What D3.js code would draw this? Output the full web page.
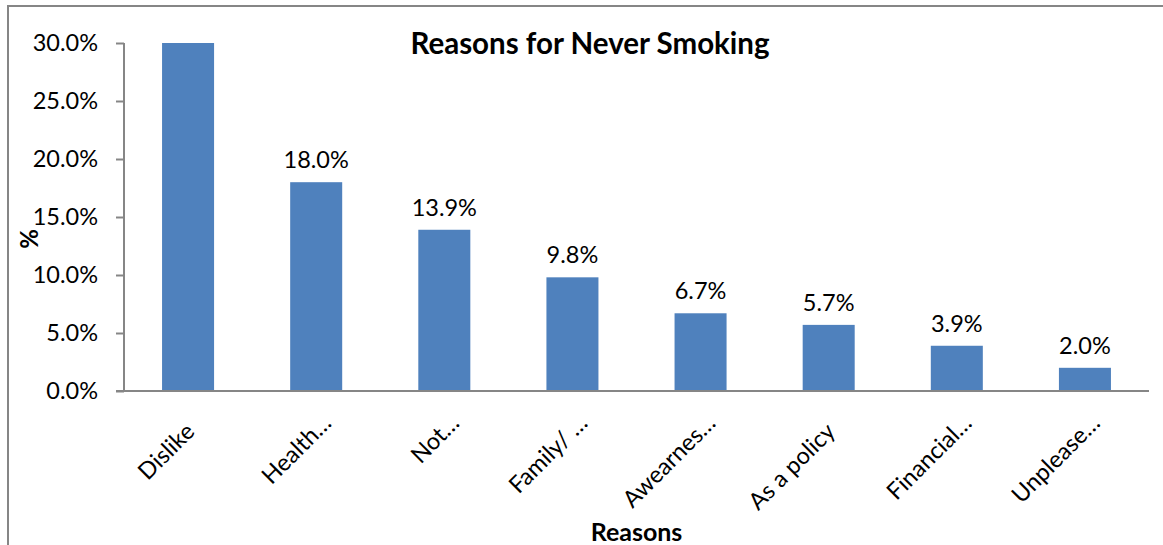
<!DOCTYPE html>
<html>
<head>
<meta charset="utf-8">
<script src="https://cdn.jsdelivr.net/npm/d3@7"></script>
<style>
  html, body { margin: 0; padding: 0; background: #fff; }
  svg { display: block; font-family: Lato, "Open Sans", sans-serif; }
</style>
</head>
<body>
<svg id="chart" width="1163" height="545"></svg>
<script>
// Reasons given for never having smoked (share of respondents, %)
const categories = ["Dislike", "Health…", "Not…", "Family/ …", "Awearnes…", "As a policy", "Financial…", "Unplease…"];
const values = [30.0, 18.0, 13.9, 9.8, 6.7, 5.7, 3.9, 2.0];
const yTicks = [0, 5, 10, 15, 20, 25, 30];

const title = "Reasons for Never Smoking";
const xTitle = "Reasons";
const yTitle = "%";

const svg = d3.select("#chart");
const plot = { left: 124, right: 1149, top: 43, bottom: 391 };

// outer chart frame (extends past the visible area on the right and bottom)
svg.append("rect")
  .attr("x", 8).attr("y", 6)
  .attr("width", 1200).attr("height", 600)
  .attr("fill", "none")
  .attr("stroke", "#868686")
  .attr("stroke-width", 2);

const x = d3.scaleBand()
  .domain(categories)
  .range([plot.left, plot.right])
  .paddingInner(0.594)
  .paddingOuter(0.297);

const y = d3.scaleLinear()
  .domain([0, 30])
  .range([plot.bottom, plot.top]);

const data = categories.map((c, i) => ({ c, v: values[i] }));

// clip bars to the plotting area
svg.append("clipPath").attr("id", "plotClip")
  .append("rect")
  .attr("x", plot.left).attr("y", plot.top)
  .attr("width", plot.right - plot.left)
  .attr("height", plot.bottom - plot.top);

svg.append("g").attr("clip-path", "url(#plotClip)")
  .selectAll("rect")
  .data(data)
  .join("rect")
  .attr("x", d => x(d.c))
  .attr("y", d => y(Math.min(d.v, 30)))
  .attr("width", x.bandwidth())
  .attr("height", d => y(0) - y(Math.min(d.v, 30)))
  .attr("fill", "#4F81BD");

// y axis
const yAxis = svg.append("g")
  .attr("transform", `translate(${plot.left},0)`)
  .call(d3.axisLeft(y).tickValues(yTicks).tickSize(8).tickPadding(18)
    .tickFormat(d => d.toFixed(1) + "%"));
yAxis.selectAll("path, line").attr("stroke", "#868686").attr("stroke-width", 2);
yAxis.select(".domain").attr("d", `M0,${plot.top}V${plot.bottom}`);
yAxis.selectAll("text")
  .attr("font-family", "Lato, sans-serif")
  .attr("font-size", 23.5)
  .attr("fill", "#000");

// x axis
const xAxis = svg.append("g")
  .attr("transform", `translate(0,${plot.bottom})`)
  .call(d3.axisBottom(x).tickSize(0).tickFormat(""));
xAxis.select(".domain")
  .attr("d", `M${plot.left - 8},0H${plot.right}`)
  .attr("stroke", "#868686").attr("stroke-width", 2);

// rotated category labels; truncated ones let their ellipsis run past the anchor
svg.append("g")
  .selectAll("text")
  .data(categories)
  .join("text")
  .attr("transform", d => `translate(${x(d) + x.bandwidth() / 2 + 8},${plot.bottom + 42}) rotate(-45)`)
  .attr("text-anchor", "end")
  .attr("dx", d => d.endsWith("…") ? 12 : 0)
  .attr("font-size", 23.5)
  .attr("fill", "#000")
  .text(d => d);

// value labels above bars (the top bar reaches the axis ceiling and has none)
svg.append("g")
  .selectAll("text")
  .data(data.filter(d => d.v < 30))
  .join("text")
  .attr("x", d => x(d.c) + x.bandwidth() / 2)
  .attr("y", d => y(d.v) - 14)
  .attr("text-anchor", "middle")
  .attr("font-size", 23.5)
  .attr("fill", "#000")
  .text(d => d.v.toFixed(1) + "%");

// titles
svg.append("text")
  .attr("x", 590).attr("y", 54)
  .attr("text-anchor", "middle")
  .attr("font-size", 29.5).attr("font-weight", "bold")
  .text(title);

svg.append("text")
  .attr("x", (plot.left + plot.right) / 2).attr("y", 541)
  .attr("text-anchor", "middle")
  .attr("font-size", 25).attr("font-weight", "bold")
  .text(xTitle);

svg.append("text")
  .attr("transform", `translate(38,239) rotate(-90)`)
  .attr("text-anchor", "middle")
  .attr("font-size", 24).attr("font-weight", "bold")
  .text(yTitle);
</script>
</body>
</html>
